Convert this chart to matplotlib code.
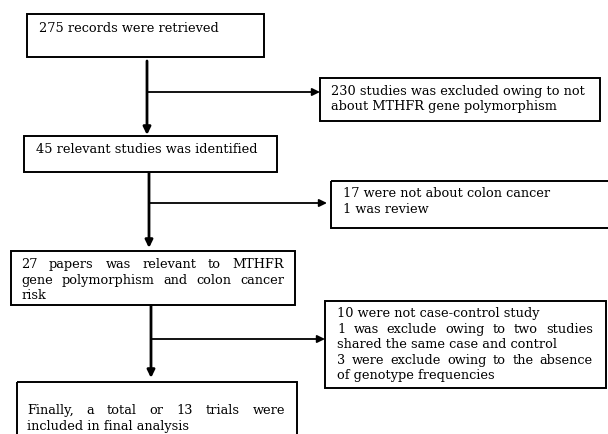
"""Flow diagram of study selection (MTHFR / colon cancer meta-analysis)."""

import matplotlib
matplotlib.use('Agg')
from matplotlib import pyplot as plt
from matplotlib.patches import Rectangle

plt.rcParams['font.family'] = ['DejaVu Serif']

# Text of the main (left) column, one entry per line
step1_lines = ['275 records were retrieved']
step2_lines = ['45 relevant studies was identified']
step3_lines = ['27 papers was relevant to MTHFR',
               'gene polymorphism and colon cancer',
               'risk']
step4_lines = ['Finally, a total or 13 trials were',
               'included in final analysis']

# Text of the exclusion boxes (right column)
excl1_lines = ['230 studies was excluded owing to not',
               'about MTHFR gene polymorphism']
excl2_lines = ['17 were not about colon cancer',
               '1 was review']
excl3_lines = ['10 were not case-control study',
               '1 was exclude owing to two studies',
               'shared the same case and control',
               '3 were exclude owing to the absence',
               'of genotype frequencies']

FONT_SIZE = 9.3
LINE_H = 15.5

fig = plt.figure(figsize=(6.08, 4.35), dpi=100)
ax = fig.add_axes([0, 0, 1, 1])
ax.set_xlim(0, 608)
ax.set_ylim(435, 0)
ax.axis('off')
renderer = fig.canvas.get_renderer()


def draw_box(x0, y0, x1, y1):
    ax.add_patch(Rectangle((x0, y0), x1 - x0, y1 - y0, fill=False,
                           edgecolor='black', lw=1.4, clip_on=False))


def draw_lines(lines, x, y, right=None, justify=()):
    """Write lines from (x, y) downwards; justify the given line indices."""
    for i, line in enumerate(lines):
        yy = y + i * LINE_H
        if right is None or i not in justify:
            ax.text(x, yy, line, fontsize=FONT_SIZE, va='center', ha='left')
            continue
        words = line.split()
        texts = [ax.text(0, yy, w, fontsize=FONT_SIZE, va='center',
                         ha='left') for w in words]
        widths = [t.get_window_extent(renderer).width for t in texts]
        gap = (right - x - sum(widths)) / (len(words) - 1)
        pos = x
        for t, w in zip(texts, widths):
            t.set_x(pos)
            pos += w + gap


def arrow(x0, y0, x1, y1, lw):
    ax.annotate('', xy=(x1, y1), xytext=(x0, y0),
                arrowprops=dict(arrowstyle='-|>,head_length=0.45,head_width=0.22',
                                lw=lw, color='black', shrinkA=0, shrinkB=0))


# Main column boxes
draw_box(27, 15, 264, 58)
draw_lines(step1_lines, 39, 28)

draw_box(24, 137, 277, 173)
draw_lines(step2_lines, 36, 150)

draw_box(11, 252, 295, 306)
draw_lines(step3_lines, 21, 265, right=284, justify=(0, 1))

draw_box(17, 383, 297, 445)
draw_lines(step4_lines, 27, 411, right=285, justify=(0,))

# Exclusion boxes
draw_box(320, 79, 600, 122)
draw_lines(excl1_lines, 331, 91)

draw_box(331, 182, 615, 229)
draw_lines(excl2_lines, 343, 194)

draw_box(325, 302, 606, 389)
draw_lines(excl3_lines, 337, 314, right=593, justify=(1, 3))

# Vertical connectors
arrow(147, 62, 147, 136, 2.0)
arrow(149, 174, 149, 249, 2.0)
arrow(151, 307, 151, 379, 2.0)

# Horizontal branches to exclusion boxes
arrow(147, 93, 320, 93, 1.3)
arrow(149, 204, 327, 204, 1.3)
arrow(151, 340, 325, 340, 1.3)

fig.savefig('out.png', dpi=100)
